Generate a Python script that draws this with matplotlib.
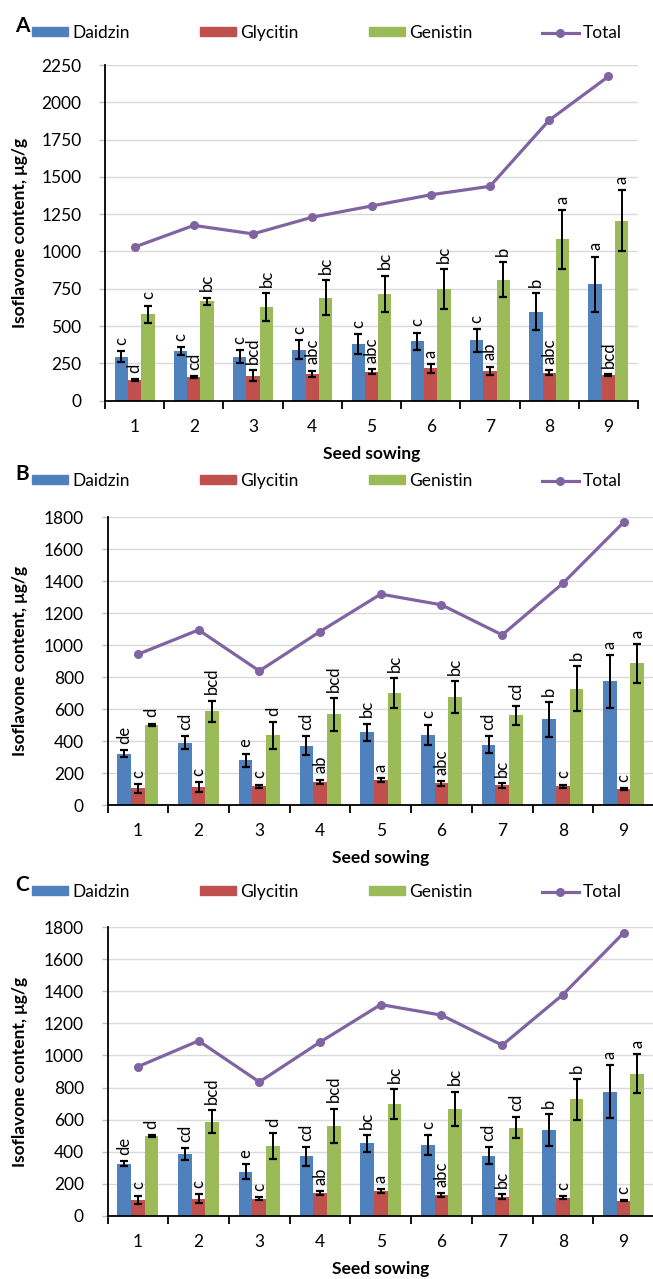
import numpy as np
import matplotlib.pyplot as plt
from matplotlib.lines import Line2D
from matplotlib.patches import Patch

plt.rcParams['font.family'] = ['Lato', 'DejaVu Sans']

sowing = [1, 2, 3, 4, 5, 6, 7, 8, 9]
series_names = ['Daidzin', 'Glycitin', 'Genistin', 'Total']

# Panel A
daidzin_a = [296, 332, 296, 341, 377, 397, 404, 597, 781]
daidzin_a_err = [36, 27, 45, 63, 67, 59, 78, 126, 184]
glycitin_a = [141, 159, 168, 180, 195, 218, 202, 188, 173]
glycitin_a_err = [6, 6, 38, 22, 15, 29, 27, 18, 7]
genistin_a = [579, 666, 628, 691, 718, 747, 812, 1082, 1207]
genistin_a_err = [58, 25, 95, 117, 121, 135, 117, 197, 202]
total_a = [1030, 1175, 1118, 1230, 1305, 1380, 1437, 1880, 2173]
daidzin_a_sig = ['c', 'c', 'c', 'c', 'c', 'c', 'c', 'b', 'a']
glycitin_a_sig = ['d', 'cd', 'bcd', 'abc', 'abc', 'a', 'ab', 'abc', 'bcd']
genistin_a_sig = ['c', 'bc', 'bc', 'bc', 'bc', 'bc', 'b', 'a', 'a']

# Panel B
daidzin_b = [321, 390, 280, 371, 454, 440, 377, 535, 773]
daidzin_b_err = [21, 41, 41, 60, 54, 62, 54, 108, 164]
glycitin_b = [104, 114, 118, 145, 155, 135, 122, 118, 100]
glycitin_b_err = [27, 31, 10, 14, 14, 14, 13, 10, 5]
genistin_b = [500, 587, 435, 566, 699, 674, 560, 728, 885]
genistin_b_err = [8, 66, 83, 102, 93, 99, 58, 139, 122]
total_b = [942, 1094, 838, 1084, 1318, 1251, 1063, 1386, 1767]
daidzin_b_sig = ['de', 'cd', 'e', 'cd', 'bc', 'c', 'cd', 'b', 'a']
glycitin_b_sig = ['c', 'c', 'c', 'ab', 'a', 'abc', 'bc', 'c', 'c']
genistin_b_sig = ['d', 'bcd', 'd', 'bcd', 'bc', 'bc', 'cd', 'b', 'a']

# Panel C
daidzin_c = [325, 387, 277, 371, 452, 442, 375, 535, 775]
daidzin_c_err = [15, 38, 44, 58, 54, 60, 54, 98, 164]
glycitin_c = [100, 108, 108, 142, 154, 131, 121, 115, 96]
glycitin_c_err = [27, 28, 8, 14, 12, 10, 14, 10, 5]
genistin_c = [498, 587, 435, 562, 698, 669, 550, 727, 885]
genistin_c_err = [8, 71, 82, 107, 94, 106, 65, 127, 122]
total_c = [930, 1091, 835, 1083, 1317, 1251, 1064, 1379, 1763]
daidzin_c_sig = ['de', 'cd', 'e', 'cd', 'bc', 'c', 'cd', 'b', 'a']
glycitin_c_sig = ['c', 'c', 'c', 'ab', 'a', 'abc', 'bc', 'c', 'c']
genistin_c_sig = ['d', 'bcd', 'd', 'bcd', 'bc', 'bc', 'cd', 'b', 'a']

colors = ['#4F81BD', '#C0504D', '#9BBB59', '#8064A2']

W, H = 653, 1279
fig = plt.figure(figsize=(W / 100, H / 100), dpi=100)


def px_axes(left, right, top, bottom):
    return fig.add_axes([left / W, 1 - bottom / H, (right - left) / W, (bottom - top) / H])


panels = [
    dict(tag='A', box=(105, 638, 65, 400.7), ymax=2250, ystep=250, leg_y=33,
         bars=[(daidzin_a, daidzin_a_err, daidzin_a_sig),
               (glycitin_a, glycitin_a_err, glycitin_a_sig),
               (genistin_a, genistin_a_err, genistin_a_sig)],
         total=total_a),
    dict(tag='B', box=(107.5, 654, 517, 805), ymax=1800, ystep=200, leg_y=481,
         bars=[(daidzin_b, daidzin_b_err, daidzin_b_sig),
               (glycitin_b, glycitin_b_err, glycitin_b_sig),
               (genistin_b, genistin_b_err, genistin_b_sig)],
         total=total_b),
    dict(tag='C', box=(107.5, 654, 927, 1216), ymax=1800, ystep=200, leg_y=892,
         bars=[(daidzin_c, daidzin_c_err, daidzin_c_sig),
               (glycitin_c, glycitin_c_err, glycitin_c_sig),
               (genistin_c, genistin_c_err, genistin_c_sig)],
         total=total_c),
]

x = np.arange(1, len(sowing) + 1)
bw = 0.225

for p in panels:
    left, right, top, bottom = p['box']
    ax = px_axes(left, right, top, bottom)
    ax.set_axisbelow(True)

    for i, (vals, errs, sig) in enumerate(p['bars']):
        xs = x + (i - 1) * bw
        ax.bar(xs, vals, bw, color=colors[i], yerr=errs, capsize=3.2,
               error_kw=dict(ecolor='black', elinewidth=1.4, capthick=1.6))
        # significance letters sit just above each error bar
        for xi, v, e, s in zip(xs, vals, errs, sig):
            ax.annotate(s, xy=(xi, v + e), xytext=(0, 4.5), textcoords='offset points',
                        rotation=90, ha='center', va='bottom', fontsize=12)

    ax.plot(x, p['total'], color=colors[3], lw=2.3, marker='o', ms=5.5, zorder=5)

    ax.set_xlim(0.5, len(sowing) + 0.5)
    ax.set_ylim(0, p['ymax'])
    ax.set_yticks(np.arange(0, p['ymax'] + 1, p['ystep']))
    ax.yaxis.grid(True, color='#D9D9D9', lw=1)

    # category boundaries get the tick marks, centres get the labels
    ax.set_xticks(np.arange(0.5, len(sowing) + 1, 1))
    ax.set_xticklabels([])
    ax.set_xticks(x, minor=True)
    ax.set_xticklabels([str(s) for s in sowing], minor=True)
    ax.tick_params(axis='x', which='major', length=6, width=1.3, direction='out')
    ax.tick_params(axis='x', which='minor', length=0, pad=13, labelsize=12.5)
    ax.tick_params(axis='y', length=4, width=1, color='#BFBFBF', pad=13, labelsize=12.5)

    for side in ('top', 'right'):
        ax.spines[side].set_visible(False)
    for side in ('left', 'bottom'):
        ax.spines[side].set_linewidth(1.3)
        ax.spines[side].set_color('black')

    ax.set_ylabel('Isoflavone content, μg/g', fontsize=12.5, fontweight='bold')
    ax.yaxis.set_label_coords((28 - left) / (right - left), 0.5)
    ax.set_xlabel('Seed sowing', fontsize=12.5, fontweight='bold', labelpad=8)

    handles = [Patch(color=c) for c in colors[:3]]
    handles.append(Line2D([], [], color=colors[3], lw=2.3, marker='o', ms=5.5))
    fig.legend(handles, series_names, ncol=4, mode='expand', loc='center',
               bbox_to_anchor=(32 / W, 1 - (p['leg_y'] + 6) / H, 590 / W, 12 / H),
               frameon=False, fontsize=12.5, handlelength=2.1, handleheight=0.45,
               handletextpad=0.25, borderaxespad=0, borderpad=0)

    fig.text(15 / W, 1 - (p['leg_y'] - 7) / H, p['tag'], fontsize=15,
             fontweight='bold', ha='left', va='center')

fig.savefig('out.png', dpi=100)
